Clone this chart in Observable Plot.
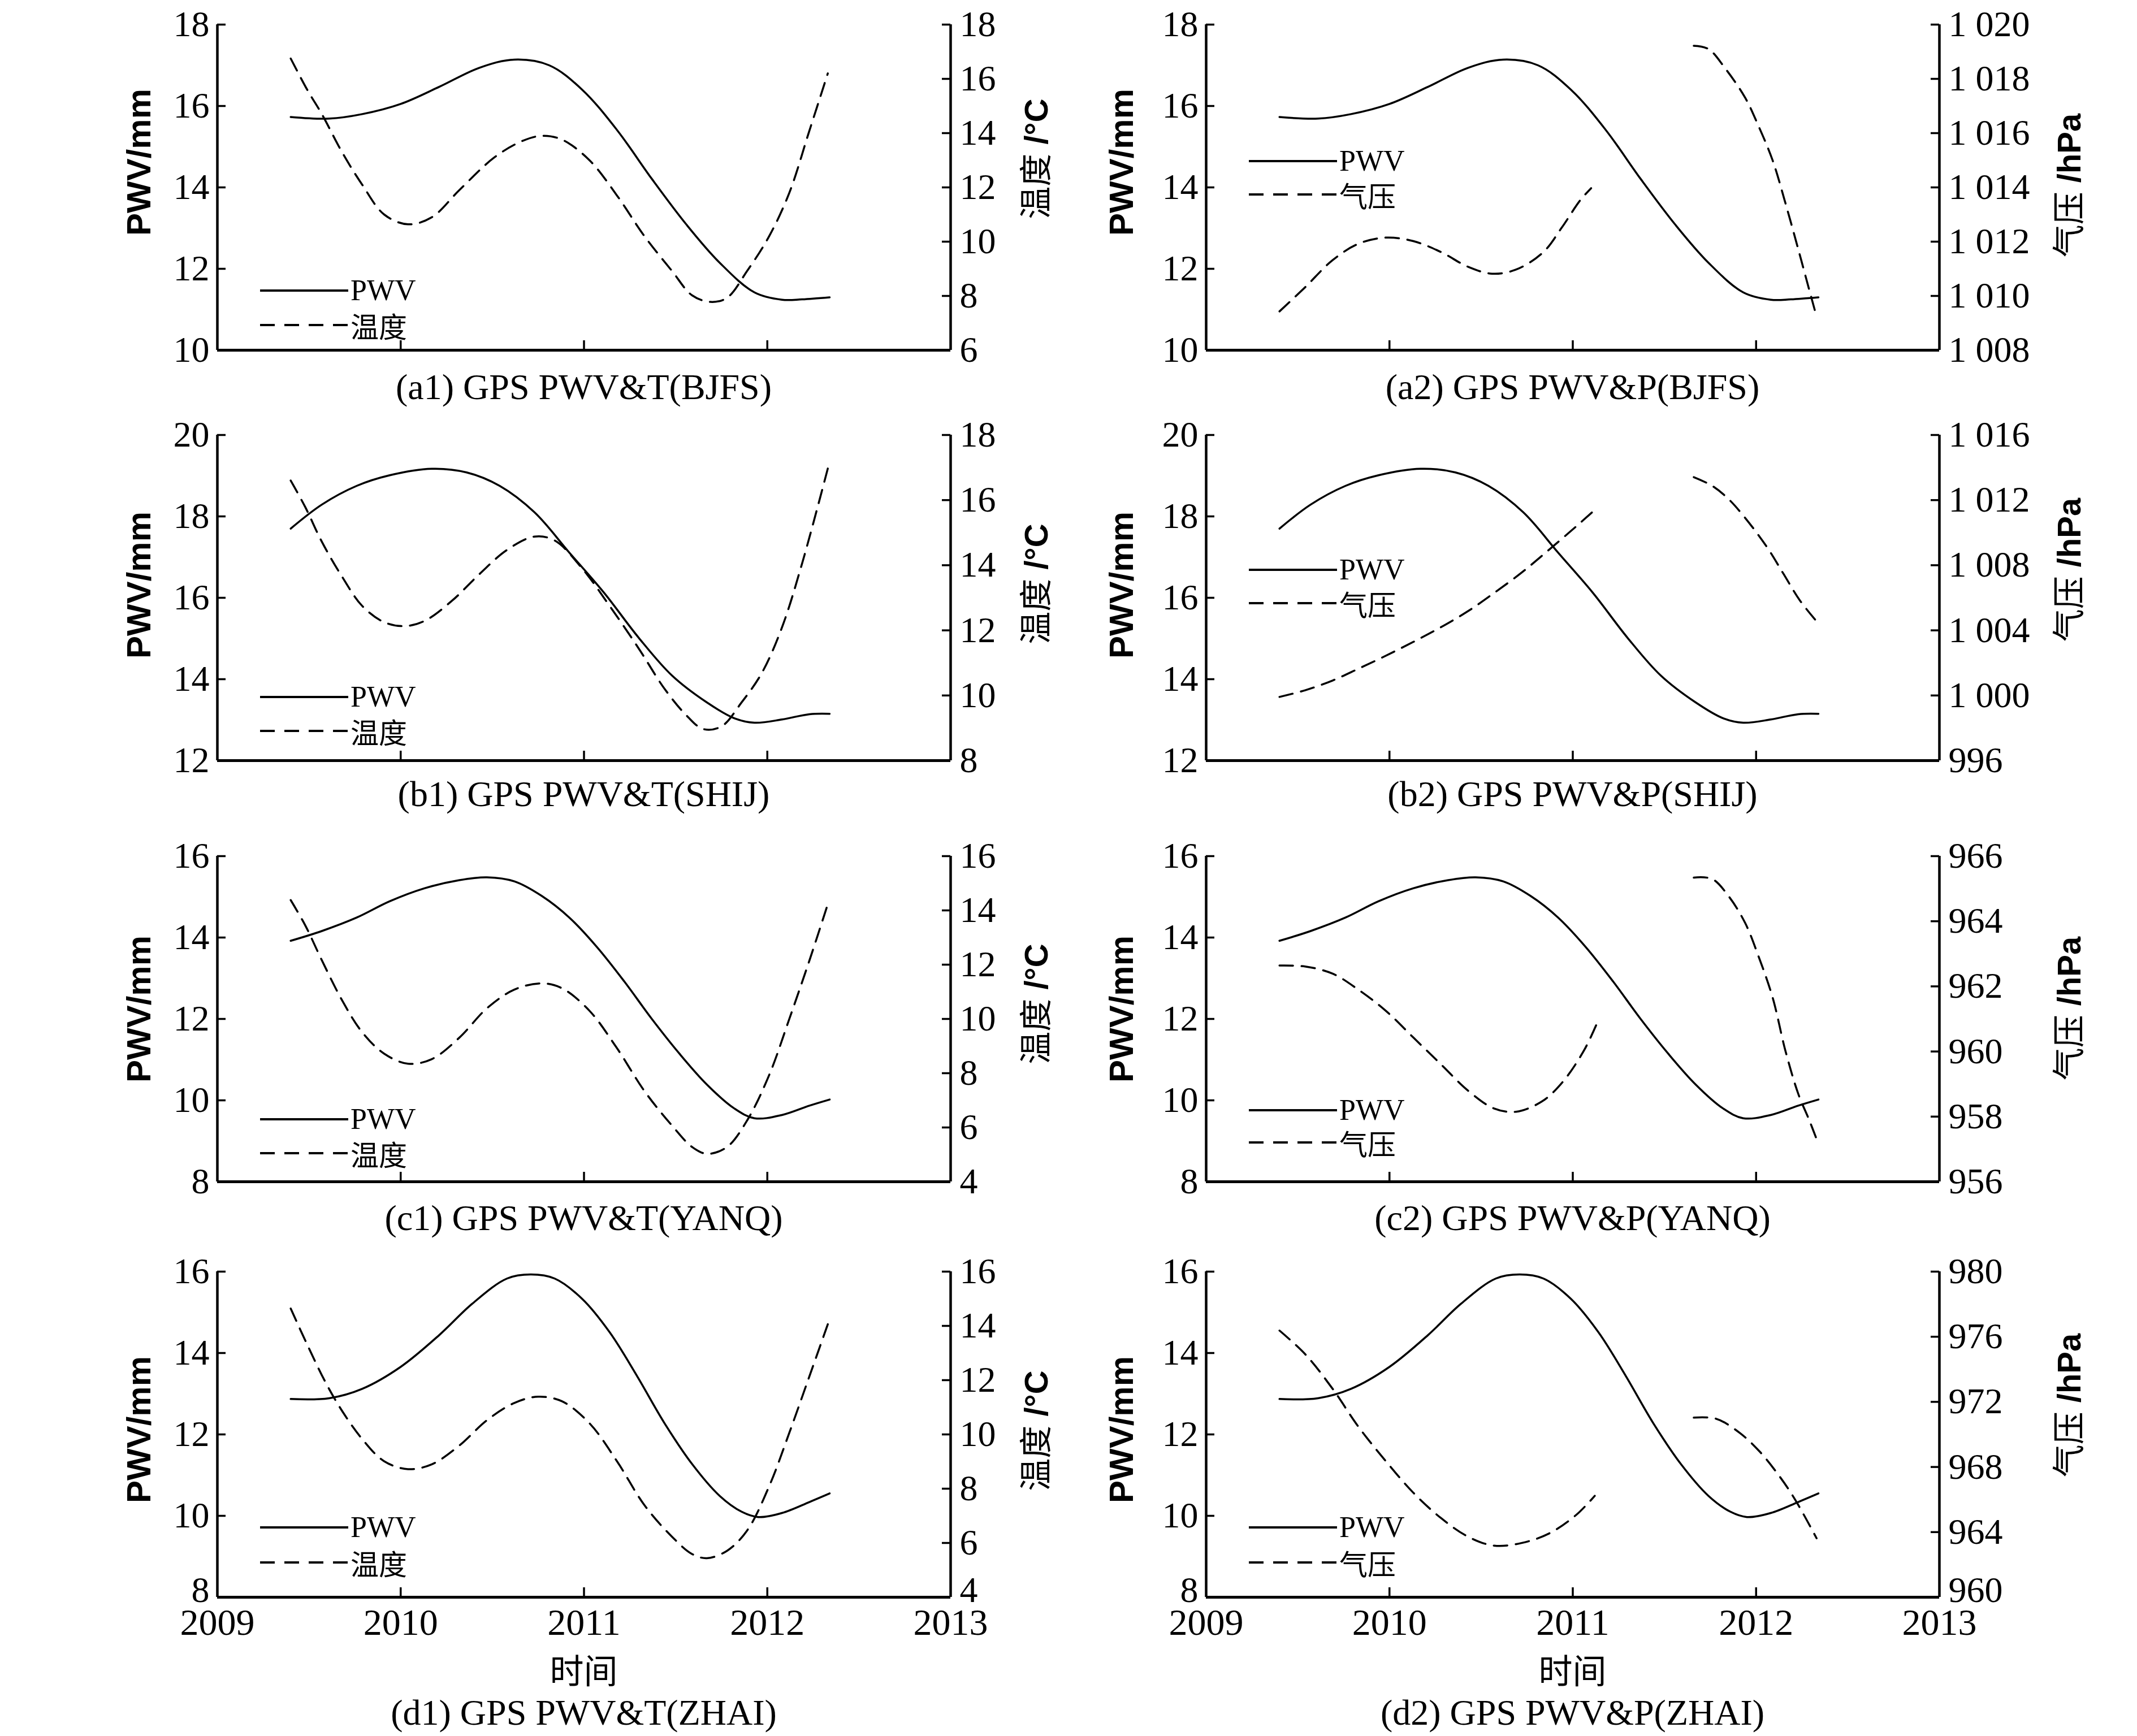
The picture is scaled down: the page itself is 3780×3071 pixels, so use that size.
<!DOCTYPE html>
<html><head><meta charset="utf-8">
<script src="https://cdn.jsdelivr.net/npm/d3@7"></script>
<script src="https://cdn.jsdelivr.net/npm/@observablehq/plot@0.6"></script>
<style>
html,body{margin:0;padding:0;background:#fff;}
#page{position:relative;width:3780px;height:3071px;overflow:hidden;background:#fff;}
.t{position:absolute;white-space:nowrap;color:#000;line-height:1;}
.serif{font-family:"Liberation Serif","Noto Sans CJK SC",serif;}
.cjk{font-family:"Noto Sans CJK SC","Liberation Serif",sans-serif;}
.sans{font-family:"Liberation Sans","Noto Sans CJK SC",sans-serif;}
</style></head><body><div id="page"></div>
<script>
// ---------------- DATA ----------------
const xTicks = [2009, 2010, 2011, 2012, 2013];
const innerXTicks = [2010, 2011, 2012];

// BJFS
const bjfsPwvYears = [2009.40, 2009.61, 2009.79, 2010.00, 2010.21, 2010.43, 2010.62, 2010.81, 2010.99, 2011.18, 2011.37, 2011.56, 2011.74, 2011.93, 2012.08, 2012.19, 2012.34];
const bjfsPwv = [15.73, 15.69, 15.80, 16.05, 16.47, 16.94, 17.14, 17.00, 16.40, 15.41, 14.21, 13.08, 12.15, 11.42, 11.24, 11.25, 11.30];
const bjfsTYears = [2009.40, 2009.49, 2009.57, 2009.68, 2009.79, 2009.91, 2010.04, 2010.17, 2010.32, 2010.51, 2010.66, 2010.77, 2010.88, 2011.03, 2011.18, 2011.33, 2011.48, 2011.59, 2011.69, 2011.78, 2011.89, 2012.01, 2012.12, 2012.23, 2012.33];
const bjfsT = [16.75, 15.6, 14.7, 13.3, 12.1, 11.0, 10.64, 10.9, 11.9, 13.1, 13.7, 13.9, 13.76, 13.0, 11.7, 10.2, 8.92, 8.02, 7.78, 7.93, 8.92, 10.2, 11.8, 14.1, 16.2];
const bjfsP1Years = [2009.40, 2009.54, 2009.69, 2009.83, 2009.98, 2010.13, 2010.28, 2010.43, 2010.56, 2010.69, 2010.84, 2010.94, 2011.04, 2011.10];
const bjfsP1 = [1009.43, 1010.32, 1011.32, 1011.92, 1012.15, 1012.02, 1011.62, 1011.07, 1010.82, 1010.97, 1011.62, 1012.52, 1013.52, 1013.97];
const bjfsP2Years = [2011.66, 2011.74, 2011.83, 2011.94, 2012.01, 2012.09, 2012.16, 2012.23, 2012.29, 2012.32];
const bjfsP2 = [1019.22, 1019.10, 1018.40, 1017.31, 1016.31, 1015.0, 1013.42, 1011.72, 1010.22, 1009.48];

// SHIJ
const shijPwvYears = [2009.40, 2009.57, 2009.76, 2009.94, 2010.17, 2010.36, 2010.54, 2010.73, 2010.92, 2011.11, 2011.30, 2011.48, 2011.67, 2011.82, 2011.93, 2012.08, 2012.23, 2012.34];
const shijPwv = [17.70, 18.29, 18.75, 19.01, 19.17, 19.08, 18.75, 18.10, 17.11, 16.12, 15.01, 14.09, 13.43, 13.04, 12.93, 13.01, 13.14, 13.15];
const shijTYears = [2009.40, 2009.48, 2009.57, 2009.68, 2009.79, 2009.91, 2010.02, 2010.13, 2010.28, 2010.43, 2010.58, 2010.73, 2010.84, 2010.99, 2011.14, 2011.30, 2011.44, 2011.56, 2011.65, 2011.75, 2011.86, 2011.97, 2012.08, 2012.19, 2012.33];
const shijT = [16.60, 15.78, 14.72, 13.65, 12.75, 12.25, 12.13, 12.29, 12.91, 13.73, 14.47, 14.88, 14.76, 13.9, 12.75, 11.43, 10.2, 9.38, 8.97, 9.05, 9.79, 10.69, 12.09, 14.06, 16.97];
const shijP1Years = [2009.40, 2009.54, 2009.69, 2009.83, 2009.98, 2010.13, 2010.28, 2010.43, 2010.57, 2010.72, 2010.87, 2011.02, 2011.12];
const shijP1 = [999.91, 1000.32, 1000.92, 1001.64, 1002.44, 1003.29, 1004.19, 1005.19, 1006.29, 1007.54, 1008.95, 1010.40, 1011.40];
const shijP2Years = [2011.66, 2011.76, 2011.85, 2011.94, 2012.06, 2012.15, 2012.24, 2012.34];
const shijP2 = [1013.41, 1012.88, 1012.06, 1010.91, 1009.10, 1007.46, 1005.82, 1004.42];

// YANQ
const yanqPwvYears = [2009.40, 2009.57, 2009.76, 2009.94, 2010.13, 2010.32, 2010.47, 2010.62, 2010.77, 2010.92, 2011.07, 2011.22, 2011.37, 2011.52, 2011.67, 2011.82, 2011.93, 2012.08, 2012.23, 2012.34];
const yanqPwv = [13.92, 14.16, 14.49, 14.89, 15.21, 15.41, 15.48, 15.38, 15.02, 14.49, 13.77, 12.92, 12.00, 11.15, 10.39, 9.80, 9.56, 9.64, 9.87, 10.02];
const yanqTYears = [2009.40, 2009.48, 2009.57, 2009.68, 2009.79, 2009.91, 2010.04, 2010.17, 2010.32, 2010.47, 2010.62, 2010.77, 2010.88, 2011.03, 2011.18, 2011.33, 2011.48, 2011.59, 2011.67, 2011.78, 2011.89, 2012.01, 2012.12, 2012.23, 2012.33];
const yanqT = [14.38, 13.44, 12.16, 10.69, 9.51, 8.72, 8.35, 8.52, 9.31, 10.39, 11.08, 11.31, 11.13, 10.30, 8.92, 7.34, 6.07, 5.28, 5.03, 5.28, 6.26, 7.93, 10.0, 12.16, 14.23];
const yanqP1Years = [2009.40, 2009.54, 2009.69, 2009.83, 2009.98, 2010.13, 2010.28, 2010.43, 2010.57, 2010.69, 2010.83, 2010.94, 2011.06, 2011.13];
const yanqP1 = [962.64, 962.61, 962.39, 961.90, 961.25, 960.43, 959.61, 958.79, 958.25, 958.15, 958.46, 959.03, 960.02, 960.84];
const yanqP2Years = [2011.66, 2011.76, 2011.85, 2011.94, 2012.01, 2012.09, 2012.16, 2012.23, 2012.29, 2012.33];
const yanqP2 = [965.34, 965.30, 964.77, 963.95, 962.97, 961.66, 960.02, 958.70, 957.89, 957.31];

// ZHAI
const zhaiPwvYears = [2009.40, 2009.61, 2009.79, 2010.00, 2010.21, 2010.39, 2010.58, 2010.71, 2010.84, 2010.99, 2011.14, 2011.29, 2011.44, 2011.59, 2011.74, 2011.86, 2011.95, 2012.08, 2012.23, 2012.34];
const zhaiPwv = [12.87, 12.89, 13.12, 13.66, 14.44, 15.21, 15.83, 15.93, 15.83, 15.33, 14.51, 13.43, 12.27, 11.27, 10.49, 10.10, 9.97, 10.07, 10.34, 10.55];
const zhaiTYears = [2009.40, 2009.49, 2009.59, 2009.68, 2009.79, 2009.91, 2010.04, 2010.17, 2010.32, 2010.47, 2010.62, 2010.75, 2010.88, 2011.03, 2011.18, 2011.33, 2011.48, 2011.59, 2011.67, 2011.78, 2011.89, 2012.01, 2012.12, 2012.23, 2012.33];
const zhaiT = [14.64, 13.31, 11.92, 10.87, 9.83, 9.01, 8.72, 8.90, 9.59, 10.52, 11.16, 11.39, 11.22, 10.41, 9.01, 7.39, 6.23, 5.59, 5.44, 5.71, 6.46, 8.09, 10.06, 12.15, 14.06];
const zhaiP1Years = [2009.40, 2009.54, 2009.69, 2009.83, 2009.98, 2010.13, 2010.28, 2010.43, 2010.57, 2010.72, 2010.87, 2011.02, 2011.12];
const zhaiP1 = [976.38, 974.93, 972.80, 970.48, 968.36, 966.42, 964.87, 963.71, 963.17, 963.33, 963.91, 965.07, 966.23];
const zhaiP2Years = [2011.66, 2011.78, 2011.91, 2012.02, 2012.13, 2012.20, 2012.26, 2012.33];
const zhaiP2 = [971.03, 970.97, 970.10, 968.94, 967.39, 966.23, 965.07, 963.62];

// axis ticks
const pwvTicksA = [10, 12, 14, 16, 18];
const pwvTicksB = [12, 14, 16, 18, 20];
const pwvTicksC = [8, 10, 12, 14, 16];
const pwvTicksD = [8, 10, 12, 14, 16];
const tTicksA = [6, 8, 10, 12, 14, 16, 18];
const tTicksB = [8, 10, 12, 14, 16, 18];
const tTicksC = [4, 6, 8, 10, 12, 14, 16];
const tTicksD = [4, 6, 8, 10, 12, 14, 16];
const pTicksA = [1008, 1010, 1012, 1014, 1016, 1018, 1020];
const pTicksB = [996, 1000, 1004, 1008, 1012, 1016];
const pTicksC = [956, 958, 960, 962, 964, 966];
const pTicksD = [960, 964, 968, 972, 976, 980];

// ---------------- BUILD ----------------
const rows = (xs, ys, seg = 0) => xs.map((x, i) => ({x, v: ys[i], seg}));
const W = 1297, H = 576;
const ML = 240, MR = 330, MT = 50, MB = 120;
const page = document.getElementById("page");
const fmtP = d => d >= 1000 ? `${Math.floor(d / 1000)} ${String(d % 1000).padStart(3, "0")}` : String(d);

function addText(html, cls, x, y, size, opts = {}) {
  const el = document.createElement("div");
  el.className = "t " + cls;
  el.innerHTML = html;
  el.style.fontSize = size + "px";
  el.style.left = x + "px";
  el.style.top = y + "px";
  el.style.transform = opts.rotate ? "translate(-50%,-50%) rotate(-90deg)" : "translate(-50%,-50%)";
  page.appendChild(el);
  return el;
}

function legendItem(x, y, dashed, label, cls, size) {
  const el = document.createElement("div");
  el.style.position = "absolute";
  el.style.left = x + "px";
  el.style.top = y + "px";
  el.style.transform = "translateY(-50%)";
  el.style.display = "flex";
  el.style.alignItems = "center";
  el.innerHTML = `<svg width="158" height="10" style="display:block"><line x1="0" y1="5" x2="156" y2="5" stroke="#000" stroke-width="4" ${dashed ? 'stroke-dasharray="26,17"' : ""}/></svg><span class="${cls}" style="font-size:${size}px;line-height:1;margin-left:2px">${label}</span>`;
  page.appendChild(el);
}

function place(svg, left, top) {
  svg.style.position = "absolute";
  svg.style.left = left + "px";
  svg.style.top = top + "px";
  page.appendChild(svg);
}

// y-axis labels; on the bottom row the lowest label is lifted a little (as in the reference)
function yLabels(ticks, anchor, padding, fmt, bottom) {
  if (!bottom) return [Plot.axisY(ticks, {anchor, tickSize: 0, tickPadding: padding, tickFormat: fmt, label: null, fontSize: 64})];
  return [
    Plot.axisY(ticks.slice(1), {anchor, tickSize: 0, tickPadding: padding, tickFormat: fmt, label: null, fontSize: 64}),
    Plot.axisY(ticks.slice(0, 1), {anchor, tickSize: 0, tickPadding: padding, tickFormat: fmt, label: null, fontSize: 64, dy: -12})
  ];
}

const panels = [
  {col: 0, top: 43, pwv: rows(bjfsPwvYears, bjfsPwv), pd: [10, 18], pt: pwvTicksA, sec: rows(bjfsTYears, bjfsT), sd: [6, 18], st: tTicksA, kind: "T", cap: "(a1) GPS PWV&amp;T(BJFS)", capY: 685, leg: [514, 575], pwvTY: 287, secTY: 281},
  {col: 1, top: 43, pwv: rows(bjfsPwvYears, bjfsPwv), pd: [10, 18], pt: pwvTicksA, sec: rows(bjfsP1Years, bjfsP1, 0).concat(rows(bjfsP2Years, bjfsP2, 1)), sd: [1008, 1020], st: pTicksA, kind: "P", cap: "(a2) GPS PWV&amp;P(BJFS)", capY: 685, leg: [285, 344], pwvTY: 287, secTY: 328},
  {col: 0, top: 769, pwv: rows(shijPwvYears, shijPwv), pd: [12, 20], pt: pwvTicksB, sec: rows(shijTYears, shijT), sd: [8, 18], st: tTicksB, kind: "T", cap: "(b1) GPS PWV&amp;T(SHIJ)", capY: 1405, leg: [1233, 1293], pwvTY: 1035, secTY: 1033},
  {col: 1, top: 769, pwv: rows(shijPwvYears, shijPwv), pd: [12, 20], pt: pwvTicksB, sec: rows(shijP1Years, shijP1, 0).concat(rows(shijP2Years, shijP2, 1)), sd: [996, 1016], st: pTicksB, kind: "P", cap: "(b2) GPS PWV&amp;P(SHIJ)", capY: 1405, leg: [1008, 1067], pwvTY: 1035, secTY: 1008},
  {col: 0, top: 1514, pwv: rows(yanqPwvYears, yanqPwv), pd: [8, 16], pt: pwvTicksC, sec: rows(yanqTYears, yanqT), sd: [4, 16], st: tTicksC, kind: "T", cap: "(c1) GPS PWV&amp;T(YANQ)", capY: 2155, leg: [1980, 2040], pwvTY: 1785, secTY: 1776},
  {col: 1, top: 1514, pwv: rows(yanqPwvYears, yanqPwv), pd: [8, 16], pt: pwvTicksC, sec: rows(yanqP1Years, yanqP1, 0).concat(rows(yanqP2Years, yanqP2, 1)), sd: [956, 966], st: pTicksC, kind: "P", cap: "(c2) GPS PWV&amp;P(YANQ)", capY: 2155, leg: [1964, 2021], pwvTY: 1785, secTY: 1784},
  {col: 0, top: 2249, pwv: rows(zhaiPwvYears, zhaiPwv), pd: [8, 16], pt: pwvTicksD, sec: rows(zhaiTYears, zhaiT), sd: [4, 16], st: tTicksD, kind: "T", cap: "(d1) GPS PWV&amp;T(ZHAI)", capY: 3030, leg: [2702, 2764], pwvTY: 2529, secTY: 2531, bottom: true},
  {col: 1, top: 2249, pwv: rows(zhaiPwvYears, zhaiPwv), pd: [8, 16], pt: pwvTicksD, sec: rows(zhaiP1Years, zhaiP1, 0).concat(rows(zhaiP2Years, zhaiP2, 1)), sd: [960, 980], st: pTicksD, kind: "P", cap: "(d2) GPS PWV&amp;P(ZHAI)", capY: 3030, leg: [2702, 2764], pwvTY: 2529, secTY: 2486, bottom: true}
];

const svgStyle = {fontFamily: "Liberation Serif, serif", fontSize: "64px", background: "transparent", overflow: "visible", color: "#000"};

for (const p of panels) {
  const frameL = p.col === 0 ? 384 : 2133;
  const common = {
    width: ML + W + MR, height: MT + H + MB,
    marginLeft: ML, marginRight: MR, marginTop: MT, marginBottom: MB,
    style: svgStyle
  };
  const primaryMarks = [
    Plot.ruleX([2009], {x: d => d, stroke: "#000", strokeWidth: 4.5}),
    Plot.ruleX([2013], {x: d => d, stroke: "#000", strokeWidth: 4.5}),
    Plot.ruleY([p.pd[0]], {y: d => d, stroke: "#000", strokeWidth: 5}),
    Plot.tickX(innerXTicks, {x: d => d, insetTop: H - 17, stroke: "#000", strokeWidth: 3.5}),
    Plot.tickY(p.pt, {y: d => d, insetRight: W - 15, stroke: "#000", strokeWidth: 3.5}),
    ...yLabels(p.pt, "left", 14, d => String(d), p.bottom),
    Plot.line(p.pwv, {x: "x", y: "v", curve: "catmull-rom", stroke: "#000", strokeWidth: 3.5})
  ];
  if (p.bottom) {
    primaryMarks.push(Plot.axisX(xTicks, {anchor: "bottom", tickSize: 0, tickPadding: 20, tickFormat: d => String(d), label: null, fontSize: 66}));
  }
  const primary = Plot.plot({
    ...common,
    x: p.bottom ? {domain: [2009, 2013]} : {domain: [2009, 2013], axis: null},
    y: {domain: p.pd},
    marks: primaryMarks
  });
  place(primary, frameL - ML, p.top - MT);

  const secondary = Plot.plot({
    ...common,
    x: {domain: [2009, 2013], axis: null},
    y: {domain: p.sd},
    marks: [
      Plot.tickY(p.st, {y: d => d, insetLeft: W - 15, stroke: "#000", strokeWidth: 3.5}),
      ...yLabels(p.st, "right", 16, p.kind === "P" ? fmtP : d => String(d), p.bottom),
      Plot.line(p.sec, {x: "x", y: "v", z: "seg", curve: "catmull-rom", stroke: "#000", strokeWidth: 3.5, strokeDasharray: "24,15"})
    ]
  });
  place(secondary, frameL - ML, p.top - MT);

  // axis titles
  addText("PWV/mm", "sans", frameL - (p.col === 0 ? 138 : 149), p.pwvTY, 60, {rotate: true}).style.fontWeight = "bold";
  if (p.kind === "T") {
    addText('<span class="cjk">温度</span><span class="sans" style="font-weight:bold"> /°C</span>', "", frameL + W + 150, p.secTY, 58, {rotate: true});
  } else {
    addText('<span class="cjk">气压</span><span class="sans" style="font-weight:bold"> /hPa</span>', "", frameL + W + 228, p.secTY, 58, {rotate: true});
  }

  // legend
  const lx = frameL + 76;
  legendItem(lx, p.leg[0], false, "PWV", "serif", 52);
  legendItem(lx, p.leg[1], true, p.kind === "T" ? "温度" : "气压", "cjk", 50);

  // caption
  addText(p.cap, "serif", frameL + W / 2, p.capY, 64);
  if (p.bottom) addText("时间", "cjk", frameL + W / 2, 2952, 60);
}
</script></body></html>
